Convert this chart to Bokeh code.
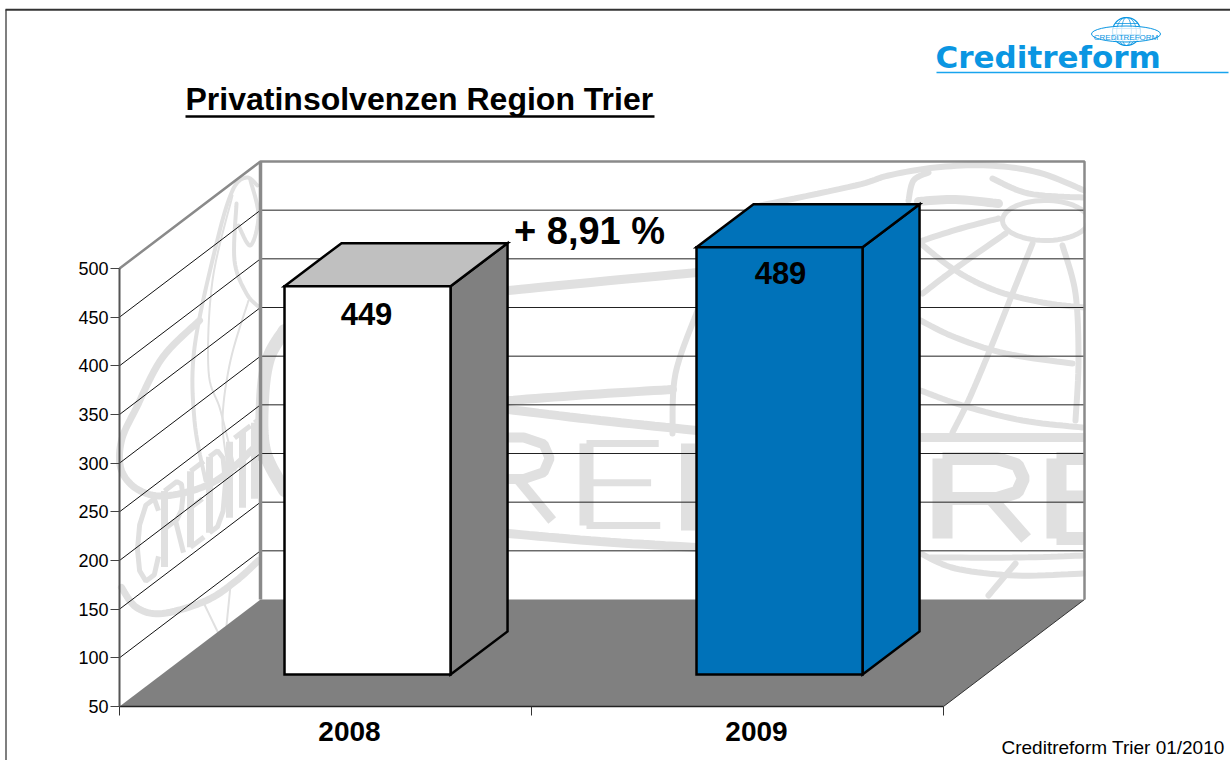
from bokeh.plotting import figure
from bokeh.embed import file_html
from bokeh.resources import INLINE
from bokeh.core.properties import value
from bokeh.models import Range1d, LinearAxis, FixedTicker, NumeralTickFormatter
import numpy as np

# ---- data ----
categories = ["2008", "2009"]
values = [449, 489]
y_ticks = [50, 100, 150, 200, 250, 300, 350, 400, 450, 500]
value_labels = ["449", "489"]
change_label = "+ 8,91 %"
title_text = "Privatinsolvenzen Region Trier"
footer_text = "Creditreform Trier 01/2010"
logo_text = "Creditreform"
logo_ring_text = "CREDITREFORM"

# ---- layout constants ----
LEFT_PX, RIGHT_PX, TOP_PX, BOTTOM_PX = 0, 1230, 0, 760
AX_X0, CAT_W = 119, 412          # page x of category 0, px per category
AX_Y50, PX_PER_UNIT = 706, 438 / 450
WALL_DX, WALL_DY = 141 / CAT_W, 107 / PX_PER_UNIT   # depth of the floor
BAR_DX, BAR_DY = 57 / CAT_W, 43 / PX_PER_UNIT       # depth of a bar
BAR_Z_Y = 32 / PX_PER_UNIT
BAR_CENTER = 0.602
BAR_HALF = 0.2015
FONT = value("Liberation Sans")
WM = "#e0e0e0"
BLUE = "#0072b9"
LOGO = "#0a96e2"

p = figure(
    width=RIGHT_PX - LEFT_PX, height=BOTTOM_PX - TOP_PX,
    output_backend="svg", toolbar_location=None,
    x_axis_type=None, y_axis_type=None,
    x_range=Range1d((LEFT_PX - AX_X0) / CAT_W, (RIGHT_PX - AX_X0) / CAT_W),
    y_range=Range1d(50 + (AX_Y50 - BOTTOM_PX) / PX_PER_UNIT, 50 + (AX_Y50 - TOP_PX) / PX_PER_UNIT),
    min_border=0, outline_line_color=None, background_fill_color="white",
)
p.grid.visible = False
p.extra_x_ranges["px"] = Range1d(LEFT_PX, RIGHT_PX)
p.extra_y_ranges["px"] = Range1d(BOTTOM_PX, TOP_PX)
PX = dict(x_range_name="px", y_range_name="px")


def smooth(pts, n=10):
    """Catmull-Rom through the hand-read points of the watermark."""
    P = [pts[0]] + list(pts) + [pts[-1]]
    xs, ys = [], []
    for i in range(1, len(P) - 2):
        p0, p1, p2, p3 = map(np.array, (P[i - 1], P[i], P[i + 1], P[i + 2]))
        for t in np.linspace(0, 1, n, endpoint=False):
            c = 0.5 * (2 * p1 + (p2 - p0) * t + (2 * p0 - 5 * p1 + 4 * p2 - p3) * t * t + (3 * p1 - p0 - 3 * p2 + p3) * t ** 3)
            xs.append(float(c[0])); ys.append(float(c[1]))
    xs.append(pts[-1][0]); ys.append(pts[-1][1])
    return xs, ys


def curves(lst, width, color=WM):
    X, Y = zip(*[smooth(c) for c in lst])
    p.multi_line(list(X), list(Y), line_color=color, line_width=width, line_cap="round", **PX)


# ---- watermark, back wall ----
curves([
    [(508, 290), (600, 281), (697, 272)],
    [(508, 400), (590, 394), (672, 389)],
    [(508, 409), (600, 420), (697, 430)],
    [(508, 533), (600, 541), (697, 547)],
    [(918, 201), (955, 199), (998, 203)],
    [(920, 437), (1000, 437), (1084, 437)],
], 9)
curves([
    [(760, 205), (855, 185), (888, 175), (935, 167), (988, 165), (1038, 172), (1084, 190)],
    [(992, 178), (1028, 193), (1082, 197)],
    [(922, 240), (960, 228), (998, 218)],
    [(922, 293), (955, 268), (1005, 233)],
    [(920, 243), (955, 270), (995, 290), (1042, 302), (1084, 307)],
    [(1032, 243), (1012, 293), (988, 353), (968, 400), (952, 432)],
    [(1062, 245), (1075, 293), (1078, 360), (1075, 420)],
    [(920, 320), (955, 337), (1005, 353), (1072, 363)],
    [(920, 390), (962, 405), (1022, 420), (1082, 427)],
    [(920, 553), (955, 568), (1015, 575), (1083, 573)],
    [(930, 557), (1020, 557), (1083, 555)],
    [(1015, 563), (988, 595)],
    [(908, 200), (913, 180), (928, 172)],
    [(672, 433), (675, 373), (697, 310)],
], 6)
th = np.linspace(0, 2 * np.pi, 60)
p.line((1045 + 43 * np.cos(th)).tolist(), (220 + 20 * np.sin(th)).tolist(), line_color=WM, line_width=5, **PX)

# ---- watermark, stroke letters ----
GLYPHS = {
    "R": ([[(0, 0), (0, 1)]], [[(0, 1), (.62, 1), (.85, .92), (.92, .75), (.85, .58), (.62, .5), (0, .5)], [(.55, .5), (.95, 0)]]),
    "E": ([[(0, 0), (0, 1)]], [[(0, 1), (.95, 1)], [(0, .52), (.85, .52)], [(0, 0), (.97, 0)]]),
    "I": ([[(.5, 0), (.5, 1)]], []),
    "C": ([], [[(1, .8), (.8, 1), (.4, 1), (.1, .8), (0, .5), (.1, .2), (.4, 0), (.8, 0), (1, .2)]]),
    "D": ([[(0, 0), (0, 1)]], [[(0, 1), (.5, 1), (.85, .85), (1, .5), (.85, .15), (.5, 0), (0, 0)]]),
    "T": ([[(.5, 0), (.5, 1)]], [[(0, 1), (1, 1)]]),
}


def letter(ch, x0, x1, ybase, ytop, shear, thick, thin):
    def tf(stroke):
        return [(x0 + u * (x1 - x0), ybase + v * (ytop - ybase) + shear * u * (x1 - x0)) for u, v in stroke]
    stems, rest = GLYPHS[ch]
    for group, w in ((stems, thick), (rest, thin)):
        if group:
            X, Y = zip(*[zip(*tf(s)) for s in group])
            p.multi_line([list(a) for a in X], [list(a) for a in Y], line_color=WM, line_width=w, **PX)


letter("R", 470, 556, 520, 437, 0, 16, 10)
letter("E", 586, 662, 525, 443, 0, 14, 7)
letter("I", 670, 705, 530, 443, 0, 14, 7)
letter("R", 942, 1030, 538, 458, 0, 20, 13)
letter("E", 1056, 1150, 538, 458, 0, 20, 13)
for ch, x0, x1 in [("C", 137, 158), ("R", 164, 184), ("E", 190, 204), ("D", 209, 225), ("I", 226, 232), ("T", 234, 250), ("R", 254, 272)]:
    sl = -107 / 141
    yb = 587 + sl * (x0 - 137)
    letter(ch, x0, x1, yb, yb - 76, sl, 7, 5)

# ---- watermark, side wall globe ----
curves([
    [(199, 320), (162, 357), (136, 407), (121, 440), (121, 470), (139, 490), (169, 495), (216, 480), (258, 443)],
    [(121, 587), (136, 607), (162, 613), (206, 600), (236, 580), (258, 560)],
], 7)
curves([
    [(257, 185), (246, 177), (232, 190), (216, 243), (194, 347), (194, 420), (205, 480)],
    [(236, 203), (234, 260), (246, 293), (259, 307)],
    [(250, 180), (258, 215), (250, 245), (238, 225)],
], 4)
curves([
    [(232, 195), (212, 280), (208, 370), (220, 410), (235, 470)],
    [(248, 300), (230, 360), (222, 420), (228, 470)],
    [(202, 600), (218, 633)],
    [(230, 585), (226, 625)],
], 2)

# masks that stop the watermark at the wall edges
p.quad(left=[1085], right=[1230], top=[150], bottom=[600], fill_color="white", line_color=None, **PX)
p.quad(left=[260], right=[300], top=[300], bottom=[600], fill_color="white", line_color=None, **PX)
curves([[(284, 330), (268, 358), (262, 400), (264, 450), (284, 490)]], 13)

# ---- floor ----
p.patch([0, WALL_DX, 2 + WALL_DX, 2], [50, 50 + WALL_DY, 50 + WALL_DY, 50],
        fill_color="#808080", line_color=None)
p.line([2, 2 + WALL_DX], [50, 50 + WALL_DY], line_color="#333333", line_width=1)

# ---- grid lines ----
grid = [v for v in y_ticks if 50 < v < 500]
p.multi_line([[0, WALL_DX] for _ in grid], [[v, v + WALL_DY] for v in grid], line_color="#111111", line_width=1)
p.multi_line([[WALL_DX, 2 + WALL_DX] for _ in grid], [[v + WALL_DY, v + WALL_DY] for v in grid], line_color="#222222", line_width=1)

# ---- walls ----
top = y_ticks[-1]
p.line([0, WALL_DX, 2 + WALL_DX, 2 + WALL_DX], [top, top + WALL_DY, top + WALL_DY, 50 + WALL_DY],
       line_color="#8a8a8a", line_width=2.5)
p.line([WALL_DX, WALL_DX], [top + WALL_DY, 50 + WALL_DY], line_color="#8a8a8a", line_width=3.5)

# ---- bars ----
styles = [("white", "#808080", "#c0c0c0"), (BLUE, BLUE, BLUE)]
base = y_ticks[0] + BAR_Z_Y
for i, v in enumerate(values):
    x0, x1 = i + BAR_CENTER - BAR_HALF, i + BAR_CENTER + BAR_HALF
    t = v + BAR_Z_Y
    front, side, cap = styles[i]
    kw = dict(line_color="black", line_width=2.5, line_join="miter")
    p.patch([x1, x1 + BAR_DX, x1 + BAR_DX, x1], [base, base + BAR_DY, t + BAR_DY, t], fill_color=side, **kw)
    p.patch([x0, x0 + BAR_DX, x1 + BAR_DX, x1], [t, t + BAR_DY, t + BAR_DY, t], fill_color=cap, **kw)
    p.patch([x0, x1, x1, x0], [base, base, t, t], fill_color=front, **kw)

# ---- axes ----
yaxis = LinearAxis(fixed_location=0, ticker=FixedTicker(ticks=y_ticks), bounds=(50, 500),
                   axis_line_color="#555555", axis_line_width=2,
                   major_tick_line_color="#444444", major_tick_line_width=1,
                   major_tick_in=0, major_tick_out=9, minor_tick_line_color=None,
                   major_label_text_font="Liberation Sans", major_label_text_font_size="18px",
                   major_label_text_color="black", major_label_standoff=2,
                   formatter=NumeralTickFormatter(format="0"))
p.add_layout(yaxis, "left")
xaxis = LinearAxis(fixed_location=50, ticker=FixedTicker(ticks=[0, 1, 2]), bounds=(0, 2),
                   axis_line_color="#222222", axis_line_width=1.5,
                   major_tick_line_color="#333333", major_tick_line_width=1,
                   major_tick_in=0, major_tick_out=9, minor_tick_line_color=None,
                   major_label_overrides={0: "", 1: "", 2: ""})
p.add_layout(xaxis, "below")


def txt(x, y, s, size, color="black", bold=True, align="center", font=FONT):
    p.text([x], [y], text=[s], text_font=font, text_font_size=f"{size}px",
           text_font_style="bold" if bold else "normal", text_color=color,
           text_align=align, text_baseline="middle", **PX)


# category and value labels
for s, x in zip(categories, (349, 756)):
    txt(x, 730.5, s, 28)
txt(366, 313, value_labels[0], 31)
txt(780, 272, value_labels[1], 31)
txt(513.5, 230.5, change_label, 38, align="left")

# title, footer
txt(185, 98.5, title_text, 32, align="left")
p.line([185, 654], [116, 116], line_color="black", line_width=2.5, **PX)
txt(1001, 747, footer_text, 19, bold=False, align="left")

# page frame
p.line([5.5, 5.5], [9, 760], line_color="#555555", line_width=1.5, **PX)
p.line([5, 1230], [9.3, 9.3], line_color="#333333", line_width=2, **PX)

# logo
txt(935, 56.5, logo_text, 31, color=LOGO, align="left", font=value("DejaVu Sans"))
p.line([936, 1228], [72, 72], line_color="#18a4ee", line_width=1.5, **PX)
th = np.linspace(0, 2 * np.pi, 60)
cx, cy, r = 1126, 31, 14
p.line((cx + r * np.cos(th)).tolist(), (cy + r * np.sin(th)).tolist(), line_color=LOGO, line_width=1.2, **PX)
for k in (0.35, 0.7):
    p.line((cx + k * r * np.cos(th)).tolist(), (cy + r * np.sin(th)).tolist(), line_color=LOGO, line_width=0.8, **PX)
for dy in (-8, -3, 3, 8):
    w = (r * r - dy * dy) ** 0.5
    p.line([cx - w, cx + w], [cy + dy, cy + dy], line_color=LOGO, line_width=0.8, **PX)
p.ellipse([1125.5], [33.5], width=[69], height=[16], fill_color="white", fill_alpha=0.75, line_color=LOGO, line_width=1, **PX)
txt(1125.5, 37, logo_ring_text, 8, color=LOGO, bold=False)

open("out.html", "w").write(file_html(p, INLINE))
